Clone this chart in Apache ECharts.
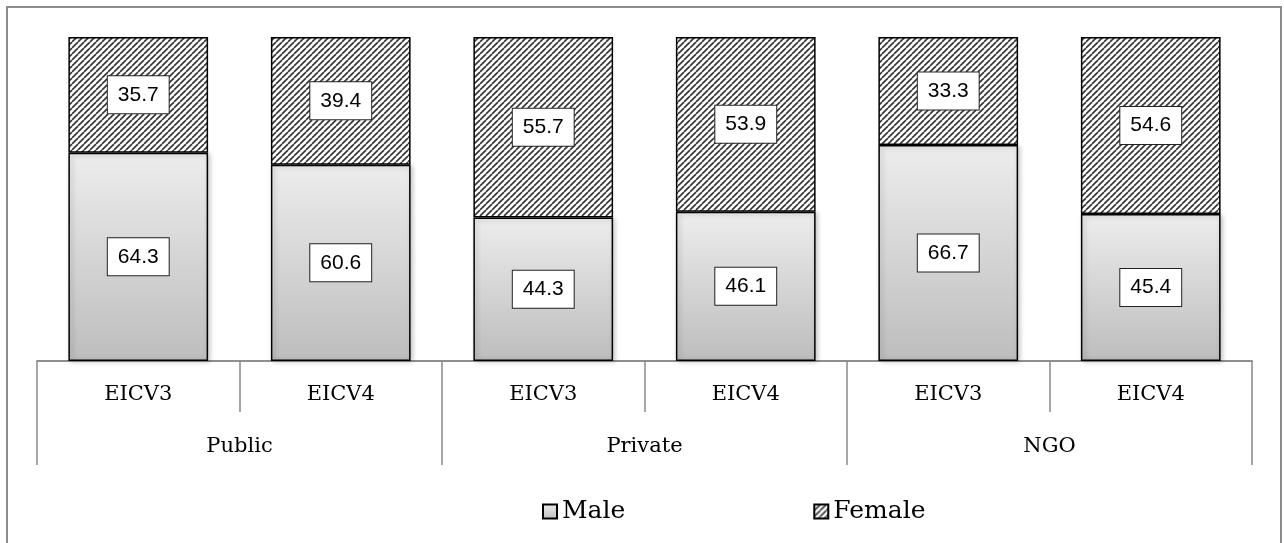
<!DOCTYPE html>
<html>
<head>
<meta charset="utf-8">
<script src="https://cdn.jsdelivr.net/npm/echarts@6/dist/echarts.min.js"></script>
<style>html,body{margin:0;padding:0;background:#fff}#c{width:1284px;height:543px}</style>
</head>
<body>
<div id="c"></div>
<script>
const categories = ['EICV3','EICV4','EICV3','EICV4','EICV3','EICV4'];
const groups = ['Public','Private','NGO'];
const male = [64.3, 60.6, 44.3, 46.1, 66.7, 45.4];
const female = [35.7, 39.4, 55.7, 53.9, 33.3, 54.6];

function hatch(){
  const s = 6;
  const c = document.createElement('canvas');
  c.width = s; c.height = s;
  const g = c.getContext('2d');
  g.fillStyle = '#ffffff'; g.fillRect(0,0,s,s);
  g.strokeStyle = '#333333'; g.lineWidth = 1.6;
  for (const o of [-s, 0, s]) {
    g.beginPath(); g.moveTo(o, s); g.lineTo(o + s, 0); g.stroke();
  }
  return c;
}
const hatchPattern = {image: hatch(), repeat: 'repeat'};
const maleGrad = new echarts.graphic.LinearGradient(0,0,0,1,[{offset:0,color:'#ededed'},{offset:1,color:'#bdbdbd'}]);

const boxLabel = {
  show: true, position: 'inside', color: '#000',
  fontFamily: 'Liberation Sans', fontSize: 21,
  backgroundColor: '#fff', borderColor: '#222', borderWidth: 1,
  padding: [9, 10, 7, 10],
  formatter: p => p.value.toFixed(1)
};

const chart = echarts.init(document.getElementById('c'), null, {renderer: 'canvas'});
chart.setOption({
  animation: false,
  grid: {left: 37, right: 32, top: 37, bottom: 182},
  graphic: [{type:'rect', shape:{x:7,y:7,width:1274,height:560}, style:{fill:'none', stroke:'#8c8c8c', lineWidth:2}, z:-1}],
  legend: {
    left: 537, top: 494, itemWidth: 14, itemHeight: 14, itemGap: 188, icon: 'rect',
    textStyle: {fontFamily: 'DejaVu Serif', fontSize: 25, color: '#000'},
    data: ['Male','Female']
  },
  xAxis: [
    {type:'category', data: categories, position:'bottom', boundaryGap: true,
     axisLine:{show:true, lineStyle:{color:'#898989', width:1.5}},
     axisTick:{show:true, length:51, interval:0, alignWithLabel:false, lineStyle:{color:'#898989', width:1.5}},
     axisLabel:{interval:0, margin:23, fontFamily:'DejaVu Serif', fontSize:21, color:'#000'}},
    {type:'category', data: groups, position:'bottom', offset:0, boundaryGap:true,
     axisLine:{show:true, lineStyle:{color:'#898989', width:1.5}},
     axisTick:{show:true, length:104, interval:0, alignWithLabel:false, lineStyle:{color:'#898989', width:1.5}},
     axisLabel:{interval:0, margin:75, fontFamily:'DejaVu Serif', fontSize:21, color:'#000'}}
  ],
  yAxis: {type:'value', min:0, max:100, show:false, splitLine:{show:false}},
  series: [
    {name:'Male', type:'bar', stack:'a', xAxisIndex:0, data: male, barWidth:'69%',
     itemStyle:{color: maleGrad, borderColor:'#000', borderWidth:1.5,
       shadowBlur:5, shadowColor:'rgba(0,0,0,0.25)', shadowOffsetX:2, shadowOffsetY:1},
     label: boxLabel},
    {name:'Female', type:'bar', stack:'a', xAxisIndex:0, data: female, barWidth:'69%',
     itemStyle:{color: hatchPattern, borderColor:'#000', borderWidth:1.5},
     label: boxLabel}
  ]
});
</script>
</body>
</html>
